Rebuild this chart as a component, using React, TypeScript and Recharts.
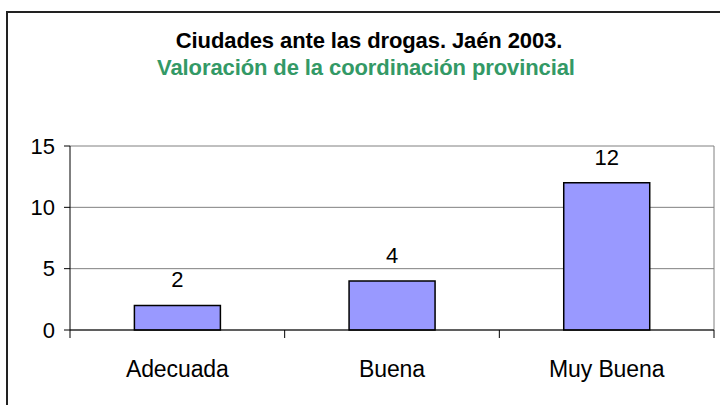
import { BarChart, Bar, XAxis, YAxis, CartesianGrid, LabelList } from 'recharts';

const categories = ['Adecuada', 'Buena', 'Muy Buena'];
const values = [2, 4, 12];
const yTicks = [0, 5, 10, 15];

const title = 'Ciudades ante las drogas. Jaén 2003.';
const subtitle = 'Valoración de la coordinación provincial';

const data = categories.map((name, i) => ({ name, value: values[i] }));

const FONT = '"Liberation Sans", Arial, sans-serif';

function CategoryTick(props: any) {
  const { x, y, payload, index, visibleTicksCount } = props;
  const half = payload.offset ?? 0;
  const axisY = y - 32;
  const isLast = index === visibleTicksCount - 1;
  return (
    <g>
      <line x1={x - half} x2={x - half} y1={axisY} y2={axisY + 8} stroke="#000" />
      {isLast && <line x1={x + half} x2={x + half} y1={axisY} y2={axisY + 8} stroke="#000" />}
      <text x={x} y={y + 15} textAnchor="middle" fontSize={23} fill="#000" fontFamily={FONT} letterSpacing={-0.1}>
        {payload.value}
      </text>
    </g>
  );
}

export default function App() {
  return (
    <div style={{ position: 'absolute', left: 0, top: 0, width: 720, height: 405, overflow: 'hidden', background: '#fff', fontFamily: FONT }}>
      <div style={{ position: 'absolute', left: 6, top: 11, width: 730, height: 410, border: '2px solid #222' }} />
      <div style={{ position: 'absolute', left: 0, top: 30, width: 738, textAlign: 'center', fontSize: 22, lineHeight: '22px', fontWeight: 'bold', color: '#000', letterSpacing: -0.1 }}>
        {title}
      </div>
      <div style={{ position: 'absolute', left: 0, top: 57, width: 732, textAlign: 'center', fontSize: 22, lineHeight: '22px', fontWeight: 'bold', color: '#339966', letterSpacing: -0.1 }}>
        {subtitle}
      </div>
      <div style={{ position: 'absolute', left: 0, top: 0 }}>
        <BarChart width={720} height={405} data={data} margin={{ top: 146, right: 6, left: 10, bottom: 35 }} barCategoryGap="30%">
          <CartesianGrid
            stroke="#808080"
            verticalCoordinatesGenerator={({ offset }: any) => [offset.left + offset.width]}
          />
          <XAxis
            dataKey="name"
            height={40}
            axisLine={{ stroke: '#000' }}
            tickLine={false}
            tickSize={8}
            tickMargin={24}
            tick={<CategoryTick />}
            interval={0}
          />
          <YAxis
            width={60}
            domain={[0, 15]}
            ticks={yTicks}
            axisLine={{ stroke: '#000' }}
            tickLine={{ stroke: '#000' }}
            tickSize={6}
            tickMargin={9}
            tick={{ fill: '#000', fontSize: 22, fontFamily: FONT }}
          />
          <Bar dataKey="value" fill="#9999FF" stroke="#000" strokeWidth={1.5} isAnimationActive={false}>
            <LabelList dataKey="value" position="top" offset={18} fill="#000" fontSize={22} fontFamily={FONT} />
          </Bar>
        </BarChart>
      </div>
    </div>
  );
}
